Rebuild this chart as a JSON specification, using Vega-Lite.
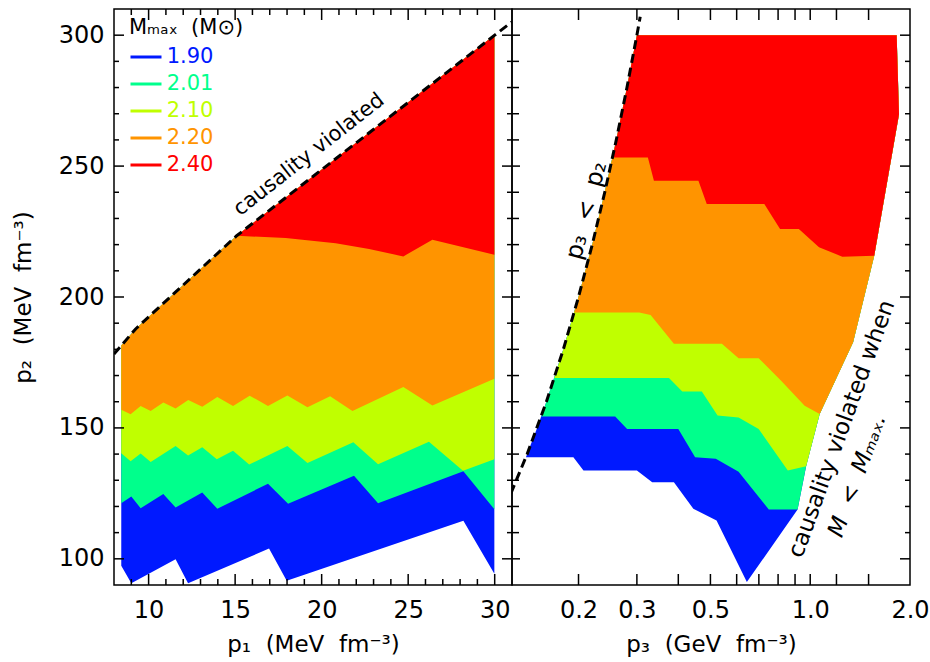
{
  "$schema": "https://vega.github.io/schema/vega-lite/v6.json",
  "background": "white",
  "padding": {"left": 11, "top": 8, "right": 5, "bottom": 5},
  "bounds": "flush",
  "spacing": 0,
  "datasets": {
    "leftBands": [
      {"Mmax":"1.90","i":0,"x":8.42,"y":97.4},{"Mmax":"1.90","i":1,"x":9.0,"y":90.7},{"Mmax":"1.90","i":2,"x":11.56,"y":99.8},{"Mmax":"1.90","i":3,"x":12.28,"y":90.7},{"Mmax":"1.90","i":4,"x":16.96,"y":103.9},{"Mmax":"1.90","i":5,"x":17.98,"y":91.6},{"Mmax":"1.90","i":6,"x":28.19,"y":114.5},{"Mmax":"1.90","i":7,"x":29.98,"y":94.3},{"Mmax":"1.90","i":8,"x":29.98,"y":300},{"Mmax":"1.90","i":9,"x":15.09,"y":223.4},{"Mmax":"1.90","i":10,"x":9.25,"y":187.8},{"Mmax":"1.90","i":11,"x":8.42,"y":181.5},
      {"Mmax":"2.01","i":0,"x":8.42,"y":121.2},{"Mmax":"2.01","i":1,"x":9.0,"y":123.8},{"Mmax":"2.01","i":2,"x":9.54,"y":119.3},{"Mmax":"2.01","i":3,"x":10.85,"y":124.8},{"Mmax":"2.01","i":4,"x":11.56,"y":119.6},{"Mmax":"2.01","i":5,"x":13.1,"y":125.3},{"Mmax":"2.01","i":6,"x":13.97,"y":119.1},{"Mmax":"2.01","i":7,"x":16.9,"y":128.7},{"Mmax":"2.01","i":8,"x":18.06,"y":121.0},{"Mmax":"2.01","i":9,"x":21.87,"y":131.7},{"Mmax":"2.01","i":10,"x":23.26,"y":121.2},{"Mmax":"2.01","i":11,"x":28.19,"y":133.4},{"Mmax":"2.01","i":12,"x":29.98,"y":118.9},{"Mmax":"2.01","i":13,"x":29.98,"y":300},{"Mmax":"2.01","i":14,"x":15.09,"y":223.4},{"Mmax":"2.01","i":15,"x":9.25,"y":187.8},{"Mmax":"2.01","i":16,"x":8.42,"y":181.5},
      {"Mmax":"2.10","i":0,"x":8.42,"y":140.3},{"Mmax":"2.10","i":1,"x":8.96,"y":137.3},{"Mmax":"2.10","i":2,"x":9.54,"y":140.2},{"Mmax":"2.10","i":3,"x":10.12,"y":137.0},{"Mmax":"2.10","i":4,"x":11.56,"y":143.1},{"Mmax":"2.10","i":5,"x":12.28,"y":139.5},{"Mmax":"2.10","i":6,"x":13.1,"y":142.6},{"Mmax":"2.10","i":7,"x":13.94,"y":138.0},{"Mmax":"2.10","i":8,"x":14.88,"y":141.3},{"Mmax":"2.10","i":9,"x":15.81,"y":136.0},{"Mmax":"2.10","i":10,"x":18.02,"y":143.1},{"Mmax":"2.10","i":11,"x":19.18,"y":136.6},{"Mmax":"2.10","i":12,"x":21.83,"y":144.5},{"Mmax":"2.10","i":13,"x":23.26,"y":136.1},{"Mmax":"2.10","i":14,"x":26.2,"y":144.7},{"Mmax":"2.10","i":15,"x":28.17,"y":133.6},{"Mmax":"2.10","i":16,"x":29.98,"y":138.0},{"Mmax":"2.10","i":17,"x":29.98,"y":300},{"Mmax":"2.10","i":18,"x":15.09,"y":223.4},{"Mmax":"2.10","i":19,"x":9.25,"y":187.8},{"Mmax":"2.10","i":20,"x":8.42,"y":181.5},
      {"Mmax":"2.20","i":0,"x":8.42,"y":156.9},{"Mmax":"2.20","i":1,"x":8.96,"y":155.2},{"Mmax":"2.20","i":2,"x":9.54,"y":158.4},{"Mmax":"2.20","i":3,"x":10.12,"y":156.5},{"Mmax":"2.20","i":4,"x":10.85,"y":159.7},{"Mmax":"2.20","i":5,"x":11.56,"y":157.4},{"Mmax":"2.20","i":6,"x":12.29,"y":160.7},{"Mmax":"2.20","i":7,"x":13.1,"y":158.1},{"Mmax":"2.20","i":8,"x":13.97,"y":161.8},{"Mmax":"2.20","i":9,"x":14.88,"y":158.4},{"Mmax":"2.20","i":10,"x":15.84,"y":162.3},{"Mmax":"2.20","i":11,"x":16.9,"y":158.4},{"Mmax":"2.20","i":12,"x":18.02,"y":162.4},{"Mmax":"2.20","i":13,"x":19.18,"y":157.9},{"Mmax":"2.20","i":14,"x":20.49,"y":162.1},{"Mmax":"2.20","i":15,"x":21.78,"y":156.5},{"Mmax":"2.20","i":16,"x":24.72,"y":165.6},{"Mmax":"2.20","i":17,"x":26.4,"y":158.6},{"Mmax":"2.20","i":18,"x":29.98,"y":168.8},{"Mmax":"2.20","i":19,"x":29.98,"y":300},{"Mmax":"2.20","i":20,"x":15.09,"y":223.4},{"Mmax":"2.20","i":21,"x":9.25,"y":187.8},{"Mmax":"2.20","i":22,"x":8.42,"y":181.5},
      {"Mmax":"2.40","i":0,"x":15.09,"y":223.4},{"Mmax":"2.40","i":1,"x":17.92,"y":222.5},{"Mmax":"2.40","i":2,"x":20.81,"y":220.5},{"Mmax":"2.40","i":3,"x":22.74,"y":218.3},{"Mmax":"2.40","i":4,"x":24.72,"y":215.5},{"Mmax":"2.40","i":5,"x":26.4,"y":221.9},{"Mmax":"2.40","i":6,"x":29.98,"y":216.1},{"Mmax":"2.40","i":7,"x":29.98,"y":300}
    ],
    "rightBands": [
      {"Mmax":"1.90","i":0,"x":0.1388,"y":138.8},{"Mmax":"1.90","i":1,"x":0.193,"y":138.8},{"Mmax":"1.90","i":2,"x":0.207,"y":133.7},{"Mmax":"1.90","i":3,"x":0.3,"y":133.7},{"Mmax":"1.90","i":4,"x":0.3337,"y":129.2},{"Mmax":"1.90","i":5,"x":0.388,"y":129.2},{"Mmax":"1.90","i":6,"x":0.444,"y":119.1},{"Mmax":"1.90","i":7,"x":0.5217,"y":114.6},{"Mmax":"1.90","i":8,"x":0.644,"y":91.1},{"Mmax":"1.90","i":9,"x":0.916,"y":118.8},{"Mmax":"1.90","i":10,"x":0.972,"y":135.4},{"Mmax":"1.90","i":11,"x":1.068,"y":155.3},{"Mmax":"1.90","i":12,"x":1.347,"y":182.7},{"Mmax":"1.90","i":13,"x":1.56,"y":215.8},{"Mmax":"1.90","i":14,"x":1.853,"y":269.8},{"Mmax":"1.90","i":15,"x":1.823,"y":300},{"Mmax":"1.90","i":16,"x":0.3,"y":300},{"Mmax":"1.90","i":17,"x":0.28,"y":280},{"Mmax":"1.90","i":18,"x":0.26,"y":260},{"Mmax":"1.90","i":19,"x":0.24,"y":240},{"Mmax":"1.90","i":20,"x":0.22,"y":220},{"Mmax":"1.90","i":21,"x":0.2,"y":200},{"Mmax":"1.90","i":22,"x":0.18,"y":180},{"Mmax":"1.90","i":23,"x":0.16,"y":160},{"Mmax":"1.90","i":24,"x":0.15,"y":150},
      {"Mmax":"2.01","i":0,"x":0.1544,"y":154.4},{"Mmax":"2.01","i":1,"x":0.258,"y":154.4},{"Mmax":"2.01","i":2,"x":0.2803,"y":149.6},{"Mmax":"2.01","i":3,"x":0.4,"y":149.6},{"Mmax":"2.01","i":4,"x":0.4495,"y":138.8},{"Mmax":"2.01","i":5,"x":0.519,"y":138.2},{"Mmax":"2.01","i":6,"x":0.608,"y":133.3},{"Mmax":"2.01","i":7,"x":0.75,"y":118.8},{"Mmax":"2.01","i":8,"x":0.916,"y":118.8},{"Mmax":"2.01","i":9,"x":0.972,"y":135.4},{"Mmax":"2.01","i":10,"x":1.068,"y":155.3},{"Mmax":"2.01","i":11,"x":1.347,"y":182.7},{"Mmax":"2.01","i":12,"x":1.56,"y":215.8},{"Mmax":"2.01","i":13,"x":1.853,"y":269.8},{"Mmax":"2.01","i":14,"x":1.823,"y":300},{"Mmax":"2.01","i":15,"x":0.3,"y":300},{"Mmax":"2.01","i":16,"x":0.28,"y":280},{"Mmax":"2.01","i":17,"x":0.26,"y":260},{"Mmax":"2.01","i":18,"x":0.24,"y":240},{"Mmax":"2.01","i":19,"x":0.22,"y":220},{"Mmax":"2.01","i":20,"x":0.2,"y":200},{"Mmax":"2.01","i":21,"x":0.18,"y":180},{"Mmax":"2.01","i":22,"x":0.16,"y":160},
      {"Mmax":"2.10","i":0,"x":0.169,"y":169.1},{"Mmax":"2.10","i":1,"x":0.375,"y":169.1},{"Mmax":"2.10","i":2,"x":0.4113,"y":163.9},{"Mmax":"2.10","i":3,"x":0.471,"y":163.9},{"Mmax":"2.10","i":4,"x":0.5254,"y":154.7},{"Mmax":"2.10","i":5,"x":0.608,"y":154.0},{"Mmax":"2.10","i":6,"x":0.699,"y":149.6},{"Mmax":"2.10","i":7,"x":0.856,"y":133.7},{"Mmax":"2.10","i":8,"x":0.972,"y":135.4},{"Mmax":"2.10","i":9,"x":1.068,"y":155.3},{"Mmax":"2.10","i":10,"x":1.347,"y":182.7},{"Mmax":"2.10","i":11,"x":1.56,"y":215.8},{"Mmax":"2.10","i":12,"x":1.853,"y":269.8},{"Mmax":"2.10","i":13,"x":1.823,"y":300},{"Mmax":"2.10","i":14,"x":0.3,"y":300},{"Mmax":"2.10","i":15,"x":0.28,"y":280},{"Mmax":"2.10","i":16,"x":0.26,"y":260},{"Mmax":"2.10","i":17,"x":0.24,"y":240},{"Mmax":"2.10","i":18,"x":0.22,"y":220},{"Mmax":"2.10","i":19,"x":0.2,"y":200},{"Mmax":"2.10","i":20,"x":0.18,"y":180},
      {"Mmax":"2.20","i":0,"x":0.1941,"y":194.1},{"Mmax":"2.20","i":1,"x":0.305,"y":194.1},{"Mmax":"2.20","i":2,"x":0.33,"y":193.1},{"Mmax":"2.20","i":3,"x":0.388,"y":182.1},{"Mmax":"2.20","i":4,"x":0.5414,"y":182.1},{"Mmax":"2.20","i":5,"x":0.608,"y":176.6},{"Mmax":"2.20","i":6,"x":0.699,"y":176.6},{"Mmax":"2.20","i":7,"x":0.817,"y":168.0},{"Mmax":"2.20","i":8,"x":0.962,"y":158.5},{"Mmax":"2.20","i":9,"x":1.068,"y":155.3},{"Mmax":"2.20","i":10,"x":1.347,"y":182.7},{"Mmax":"2.20","i":11,"x":1.56,"y":215.8},{"Mmax":"2.20","i":12,"x":1.853,"y":269.8},{"Mmax":"2.20","i":13,"x":1.823,"y":300},{"Mmax":"2.20","i":14,"x":0.3,"y":300},{"Mmax":"2.20","i":15,"x":0.28,"y":280},{"Mmax":"2.20","i":16,"x":0.26,"y":260},{"Mmax":"2.20","i":17,"x":0.24,"y":240},{"Mmax":"2.20","i":18,"x":0.22,"y":220},{"Mmax":"2.20","i":19,"x":0.2,"y":200},
      {"Mmax":"2.40","i":0,"x":0.2533,"y":253.3},{"Mmax":"2.40","i":1,"x":0.3238,"y":253.3},{"Mmax":"2.40","i":2,"x":0.3377,"y":244.4},{"Mmax":"2.40","i":3,"x":0.46,"y":244.4},{"Mmax":"2.40","i":4,"x":0.4874,"y":235.5},{"Mmax":"2.40","i":5,"x":0.727,"y":235.5},{"Mmax":"2.40","i":6,"x":0.811,"y":226.0},{"Mmax":"2.40","i":7,"x":0.924,"y":226.0},{"Mmax":"2.40","i":8,"x":1.063,"y":219.0},{"Mmax":"2.40","i":9,"x":1.25,"y":215.4},{"Mmax":"2.40","i":10,"x":1.56,"y":215.8},{"Mmax":"2.40","i":11,"x":1.853,"y":269.8},{"Mmax":"2.40","i":12,"x":1.823,"y":300},{"Mmax":"2.40","i":13,"x":0.3,"y":300},{"Mmax":"2.40","i":14,"x":0.28,"y":280},{"Mmax":"2.40","i":15,"x":0.26,"y":260}
    ],
    "leftCausal": [
      {"x":8.0,"y":178.2},{"x":9.25,"y":187.8},{"x":15.09,"y":223.4},{"x":30,"y":300},{"x":31,"y":305.1}
    ],
    "rightCausal": [
      {"x":0.125,"y":125},{"x":0.14,"y":140},{"x":0.16,"y":160},{"x":0.18,"y":180},{"x":0.2,"y":200},{"x":0.22,"y":220},{"x":0.24,"y":240},{"x":0.26,"y":260},{"x":0.28,"y":280},{"x":0.3,"y":300},{"x":0.307,"y":307}
    ],
    "p1Major": [{"v":10},{"v":15},{"v":20},{"v":25},{"v":30}],
    "p1Minor": [{"v":9},{"v":11},{"v":12},{"v":13},{"v":14},{"v":16},{"v":17},{"v":18},{"v":19},{"v":21},{"v":22},{"v":23},{"v":24},{"v":26},{"v":27},{"v":28},{"v":29}],
    "p2Major": [{"v":100},{"v":150},{"v":200},{"v":250},{"v":300}],
    "p2Minor": [{"v":110},{"v":120},{"v":130},{"v":140},{"v":160},{"v":170},{"v":180},{"v":190},{"v":210},{"v":220},{"v":230},{"v":240},{"v":260},{"v":270},{"v":280},{"v":290}],
    "p3Ticks": [{"v":0.2},{"v":0.3},{"v":0.4},{"v":0.5},{"v":0.6},{"v":0.7},{"v":0.8},{"v":0.9},{"v":1.0},{"v":1.2},{"v":1.5}]
  },
  "hconcat": [
    {
      "width": 398,
      "height": 576,
      "resolve": {"axis": {"x": "independent", "y": "independent"}},
      "layer": [
        {
          "data": {"name": "leftBands"},
          "mark": {"type": "line", "filled": true, "clip": true},
          "encoding": {
            "x": {"field": "x", "type": "quantitative",
              "scale": {"domain": [8, 31], "nice": false, "zero": false},
              "axis": {"orient": "bottom", "values": [10,15,20,25,30], "ticks": false, "tickSize": 0,
                "labelPadding": 13, "labelFlush": false, "labelOverlap": false,
                "title": "p₁\u00a0 (MeV\u00a0 fm⁻³)", "titleY": 66, "titleBaseline": "alphabetic"}},
            "y": {"field": "y", "type": "quantitative",
              "scale": {"domain": [90, 310], "nice": false, "zero": false},
              "axis": {"orient": "left", "values": [100,150,200,250,300], "ticks": false, "tickSize": 0,
                "labelPadding": 10, "labelOverlap": false, "labelFlush": false,
                "title": "p₂\u00a0 (MeV\u00a0 fm⁻³)", "titleX": -84, "titleBaseline": "alphabetic", "titleAngle": -90}},
            "color": {"field": "Mmax", "type": "nominal",
              "scale": {"domain": ["1.90","2.01","2.10","2.20","2.40"], "range": ["#0019ff","#00ff8c","#c0ff00","#ff9400","#ff0000"]},
              "legend": {"orient": "none", "legendX": 15, "legendY": 8, "title": "Mₘₐₓ\u00a0 (M⊙)",
                "titleFontSize": 21, "titleFontWeight": "normal", "titleFont": "DejaVu Sans", "titleColor": "black", "titlePadding": 2,
                "labelFont": "DejaVu Sans", "labelFontSize": 21, "labelOffset": 3.7,
                "symbolType": "stroke", "symbolSize": 961, "symbolStrokeWidth": 3, "rowPadding": -5.75,
                "encode": {"labels": {"update": {"fill": {"scale": "color", "field": "value"}}},
                           "symbols": {"update": {"stroke": {"scale": "color", "field": "value"}, "strokeWidth": {"value": 3}}}}}},
            "order": {"field": "i", "type": "quantitative"}
          }
        },
        {
          "data": {"name": "leftCausal"},
          "mark": {"type": "line", "color": "black", "strokeDash": [9, 5], "strokeWidth": 3, "clip": true},
          "encoding": {
            "x": {"field": "x", "type": "quantitative", "axis": null},
            "y": {"field": "y", "type": "quantitative", "axis": null}
          }
        },
        {
          "data": {"values": [{"x": 19.27, "y": 254.3, "label": "causality violated"}]},
          "mark": {"type": "text", "angle": -38, "fontSize": 21, "font": "DejaVu Sans", "color": "black", "align": "center", "baseline": "middle"},
          "encoding": {
            "x": {"field": "x", "type": "quantitative", "axis": null},
            "y": {"field": "y", "type": "quantitative", "axis": null},
            "text": {"field": "label"}
          }
        },
        {"data": {"name": "p1Major"}, "mark": {"type": "tick", "orient": "vertical", "size": 11, "thickness": 1.5, "color": "black", "opacity": 1, "yOffset": -5.5},
         "encoding": {"x": {"field": "v", "type": "quantitative", "axis": null}, "y": {"datum": 90, "type": "quantitative", "axis": null}}},
        {"data": {"name": "p1Minor"}, "mark": {"type": "tick", "orient": "vertical", "size": 6, "thickness": 1.5, "color": "black", "opacity": 1, "yOffset": -3},
         "encoding": {"x": {"field": "v", "type": "quantitative", "axis": null}, "y": {"datum": 90, "type": "quantitative", "axis": null}}},
        {"data": {"name": "p1Major"}, "mark": {"type": "tick", "orient": "vertical", "size": 11, "thickness": 1.5, "color": "black", "opacity": 1, "yOffset": 5.5},
         "encoding": {"x": {"field": "v", "type": "quantitative", "axis": null}, "y": {"datum": 310, "type": "quantitative", "axis": null}}},
        {"data": {"name": "p1Minor"}, "mark": {"type": "tick", "orient": "vertical", "size": 6, "thickness": 1.5, "color": "black", "opacity": 1, "yOffset": 3},
         "encoding": {"x": {"field": "v", "type": "quantitative", "axis": null}, "y": {"datum": 310, "type": "quantitative", "axis": null}}},
        {"data": {"name": "p2Major"}, "mark": {"type": "tick", "orient": "horizontal", "size": 10, "thickness": 1.5, "color": "black", "opacity": 1, "xOffset": 5},
         "encoding": {"y": {"field": "v", "type": "quantitative", "axis": null}, "x": {"datum": 8, "type": "quantitative", "axis": null}}},
        {"data": {"name": "p2Minor"}, "mark": {"type": "tick", "orient": "horizontal", "size": 5, "thickness": 1.5, "color": "black", "opacity": 1, "xOffset": 2.5},
         "encoding": {"y": {"field": "v", "type": "quantitative", "axis": null}, "x": {"datum": 8, "type": "quantitative", "axis": null}}},
        {"data": {"name": "p2Major"}, "mark": {"type": "tick", "orient": "horizontal", "size": 10, "thickness": 1.5, "color": "black", "opacity": 1, "xOffset": -5},
         "encoding": {"y": {"field": "v", "type": "quantitative", "axis": null}, "x": {"datum": 31, "type": "quantitative", "axis": null}}},
        {"data": {"name": "p2Minor"}, "mark": {"type": "tick", "orient": "horizontal", "size": 5, "thickness": 1.5, "color": "black", "opacity": 1, "xOffset": -2.5},
         "encoding": {"y": {"field": "v", "type": "quantitative", "axis": null}, "x": {"datum": 31, "type": "quantitative", "axis": null}}}
      ]
    },
    {
      "width": 398,
      "height": 576,
      "resolve": {"axis": {"x": "independent", "y": "independent"}},
      "layer": [
        {
          "data": {"name": "rightBands"},
          "mark": {"type": "line", "filled": true, "clip": true},
          "encoding": {
            "x": {"field": "x", "type": "quantitative",
              "scale": {"type": "log", "domain": [0.126, 2.0], "nice": false},
              "axis": {"orient": "bottom", "values": [0.2,0.3,0.5,1,2], "format": ".1f", "ticks": false, "tickSize": 0,
                "labelPadding": 13, "labelFlush": false, "labelOverlap": false,
                "title": "p₃\u00a0 (GeV\u00a0 fm⁻³)", "titleY": 66, "titleBaseline": "alphabetic"}},
            "y": {"field": "y", "type": "quantitative",
              "scale": {"domain": [90, 310], "nice": false, "zero": false},
              "axis": null},
            "color": {"field": "Mmax", "type": "nominal",
              "scale": {"domain": ["1.90","2.01","2.10","2.20","2.40"], "range": ["#0019ff","#00ff8c","#c0ff00","#ff9400","#ff0000"]},
              "legend": null},
            "order": {"field": "i", "type": "quantitative"}
          }
        },
        {
          "data": {"name": "rightCausal"},
          "mark": {"type": "line", "color": "black", "strokeDash": [9, 5], "strokeWidth": 3, "clip": true},
          "encoding": {
            "x": {"field": "x", "type": "quantitative", "axis": null},
            "y": {"field": "y", "type": "quantitative", "axis": null}
          }
        },
        {
          "data": {"values": [{"x": 0.2117, "y": 233, "label": "p₃\u00a0 <\u00a0 p₂"}]},
          "mark": {"type": "text", "angle": -75, "fontSize": 24, "font": "DejaVu Sans", "color": "black", "align": "center", "baseline": "middle"},
          "encoding": {
            "x": {"field": "x", "type": "quantitative", "axis": null},
            "y": {"field": "y", "type": "quantitative", "axis": null},
            "text": {"field": "label"}
          }
        },
        {
          "data": {"values": [{"x": 1.245, "y": 149.6, "label": "causality violated when"}]},
          "mark": {"type": "text", "angle": -70, "fontSize": 23, "font": "DejaVu Sans", "color": "black", "align": "center", "baseline": "middle"},
          "encoding": {
            "x": {"field": "x", "type": "quantitative", "axis": null},
            "y": {"field": "y", "type": "quantitative", "axis": null},
            "text": {"field": "label"}
          }
        },
        {
          "data": {"values": [{"x": 1.387, "y": 131.8, "label": "M\u00a0 <\u00a0 Mₘₐₓ."}]},
          "mark": {"type": "text", "angle": -70, "fontSize": 23, "font": "DejaVu Sans", "fontStyle": "italic", "color": "black", "align": "center", "baseline": "middle"},
          "encoding": {
            "x": {"field": "x", "type": "quantitative", "axis": null},
            "y": {"field": "y", "type": "quantitative", "axis": null},
            "text": {"field": "label"}
          }
        },
        {"data": {"name": "p3Ticks"}, "mark": {"type": "tick", "orient": "vertical", "size": 11, "thickness": 1.5, "color": "black", "opacity": 1, "yOffset": -5.5},
         "encoding": {"x": {"field": "v", "type": "quantitative", "axis": null}, "y": {"datum": 90, "type": "quantitative", "axis": null}}},
        {"data": {"name": "p3Ticks"}, "mark": {"type": "tick", "orient": "vertical", "size": 11, "thickness": 1.5, "color": "black", "opacity": 1, "yOffset": 5.5},
         "encoding": {"x": {"field": "v", "type": "quantitative", "axis": null}, "y": {"datum": 310, "type": "quantitative", "axis": null}}},
        {"data": {"name": "p2Major"}, "mark": {"type": "tick", "orient": "horizontal", "size": 8, "thickness": 1.5, "color": "black", "opacity": 1, "xOffset": 4},
         "encoding": {"y": {"field": "v", "type": "quantitative", "axis": null}, "x": {"datum": 0.126, "type": "quantitative", "axis": null}}},
        {"data": {"name": "p2Minor"}, "mark": {"type": "tick", "orient": "horizontal", "size": 7, "thickness": 1.5, "color": "black", "opacity": 1, "xOffset": 3.5},
         "encoding": {"y": {"field": "v", "type": "quantitative", "axis": null}, "x": {"datum": 0.126, "type": "quantitative", "axis": null}}},
        {"data": {"name": "p2Major"}, "mark": {"type": "tick", "orient": "horizontal", "size": 10, "thickness": 1.5, "color": "black", "opacity": 1, "xOffset": -5},
         "encoding": {"y": {"field": "v", "type": "quantitative", "axis": null}, "x": {"datum": 2.0, "type": "quantitative", "axis": null}}},
        {"data": {"name": "p2Minor"}, "mark": {"type": "tick", "orient": "horizontal", "size": 5, "thickness": 1.5, "color": "black", "opacity": 1, "xOffset": -2.5},
         "encoding": {"y": {"field": "v", "type": "quantitative", "axis": null}, "x": {"datum": 2.0, "type": "quantitative", "axis": null}}}
      ]
    }
  ],
  "config": {
    "view": {"stroke": "black", "strokeWidth": 1.5},
    "axis": {"domain": false, "grid": false,
      "labelFont": "DejaVu Sans", "labelFontSize": 24, "labelColor": "black",
      "titleFont": "DejaVu Sans", "titleFontSize": 23, "titleFontWeight": "normal", "titleColor": "black"},
    "text": {"font": "DejaVu Sans"}
  }
}
